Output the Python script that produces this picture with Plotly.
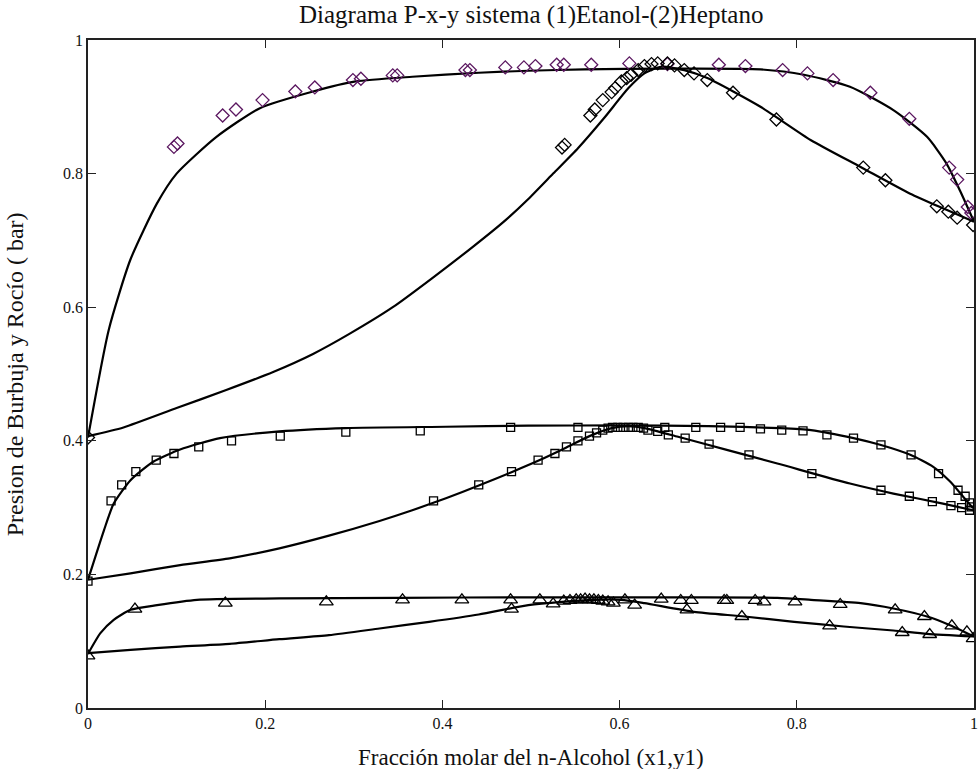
import plotly.graph_objects as go

# ---------------- data ----------------
# System 1 (diamonds, highest pressure)
d_bub_curve_x = [0, 0.0234, 0.0478, 0.0777, 0.100, 0.145, 0.194, 0.254, 0.302, 0.366, 0.441, 0.497, 0.56, 0.65, 0.759, 0.808, 0.860, 0.909, 0.947, 0.969, 0.984, 1.0]
d_bub_curve_p = [0.405, 0.566, 0.671, 0.755, 0.800, 0.855, 0.898, 0.923, 0.938, 0.945, 0.951, 0.954, 0.956, 0.957, 0.956, 0.948, 0.930, 0.895, 0.855, 0.815, 0.775, 0.728]
d_dew_curve_x = [0, 0.040, 0.100, 0.156, 0.209, 0.254, 0.295, 0.344, 0.389, 0.434, 0.471, 0.497, 0.525, 0.553, 0.583, 0.610, 0.628, 0.647, 0.673, 0.699, 0.759, 0.816, 0.872, 0.928, 0.965, 1.0]
d_dew_curve_p = [0.407, 0.420, 0.449, 0.476, 0.503, 0.530, 0.560, 0.600, 0.644, 0.690, 0.730, 0.762, 0.800, 0.838, 0.884, 0.928, 0.950, 0.960, 0.955, 0.943, 0.900, 0.850, 0.810, 0.770, 0.748, 0.728]
d_bub_exp_x = [0.097, 0.101, 0.152, 0.167, 0.197, 0.234, 0.256, 0.299, 0.308, 0.344, 0.349, 0.426, 0.431, 0.471, 0.492, 0.505, 0.529, 0.537, 0.568, 0.611, 0.654, 0.712, 0.742, 0.784, 0.812, 0.841, 0.883, 0.927, 0.972, 0.981, 0.993, 0.997]
d_bub_exp_p = [0.840, 0.845, 0.887, 0.896, 0.910, 0.923, 0.929, 0.940, 0.942, 0.947, 0.947, 0.955, 0.955, 0.959, 0.959, 0.961, 0.963, 0.963, 0.963, 0.965, 0.964, 0.963, 0.961, 0.955, 0.950, 0.940, 0.921, 0.882, 0.809, 0.791, 0.750, 0.741]
d_dew_exp_x = [0, 0.535, 0.538, 0.567, 0.572, 0.581, 0.591, 0.595, 0.602, 0.608, 0.613, 0.621, 0.628, 0.636, 0.643, 0.654, 0.662, 0.673, 0.684, 0.699, 0.728, 0.777, 0.875, 0.900, 0.958, 0.971, 0.981, 0.999]
d_dew_exp_p = [0.405, 0.839, 0.843, 0.887, 0.896, 0.910, 0.922, 0.928, 0.938, 0.943, 0.948, 0.955, 0.961, 0.964, 0.965, 0.965, 0.962, 0.955, 0.950, 0.940, 0.921, 0.881, 0.809, 0.790, 0.751, 0.743, 0.734, 0.723]

# System 2 (squares)
s_bub_curve_x = [0, 0.018, 0.029, 0.048, 0.074, 0.104, 0.149, 0.216, 0.291, 0.404, 0.497, 0.600, 0.700, 0.781, 0.816, 0.864, 0.894, 0.928, 0.954, 0.973, 0.988, 0.999]
s_bub_curve_p = [0.192, 0.266, 0.306, 0.341, 0.369, 0.387, 0.404, 0.414, 0.419, 0.421, 0.4226, 0.423, 0.422, 0.419, 0.416, 0.404, 0.394, 0.379, 0.361, 0.339, 0.316, 0.299]
s_dew_curve_x = [0, 0.048, 0.104, 0.160, 0.216, 0.272, 0.329, 0.366, 0.404, 0.441, 0.478, 0.508, 0.540, 0.566, 0.591, 0.610, 0.628, 0.666, 0.722, 0.778, 0.860, 0.909, 0.965, 0.999]
s_dew_curve_p = [0.192, 0.2016, 0.214, 0.224, 0.239, 0.258, 0.280, 0.296, 0.314, 0.333, 0.353, 0.370, 0.390, 0.407, 0.419, 0.422, 0.419, 0.406, 0.386, 0.366, 0.336, 0.321, 0.306, 0.296]
s_bub_exp_x = [0, 0.026, 0.038, 0.054, 0.077, 0.097, 0.125, 0.162, 0.217, 0.291, 0.375, 0.477, 0.553, 0.651, 0.686, 0.714, 0.736, 0.759, 0.783, 0.807, 0.834, 0.864, 0.895, 0.929, 0.960, 0.982, 0.990, 0.995, 0.997]
s_bub_exp_p = [0.190, 0.310, 0.334, 0.354, 0.371, 0.381, 0.391, 0.400, 0.407, 0.413, 0.415, 0.420, 0.420, 0.420, 0.420, 0.420, 0.420, 0.418, 0.416, 0.415, 0.409, 0.404, 0.394, 0.379, 0.351, 0.326, 0.317, 0.307, 0.301]
s_dew_exp_x = [0.390, 0.441, 0.478, 0.508, 0.527, 0.540, 0.553, 0.566, 0.574, 0.581, 0.587, 0.592, 0.598, 0.604, 0.610, 0.615, 0.621, 0.627, 0.632, 0.643, 0.655, 0.674, 0.701, 0.746, 0.817, 0.895, 0.927, 0.953, 0.974, 0.986, 0.995]
s_dew_exp_p = [0.310, 0.334, 0.354, 0.371, 0.381, 0.391, 0.400, 0.407, 0.412, 0.416, 0.419, 0.420, 0.420, 0.420, 0.420, 0.420, 0.420, 0.419, 0.416, 0.414, 0.409, 0.404, 0.395, 0.379, 0.351, 0.326, 0.317, 0.309, 0.303, 0.300, 0.296]

# System 3 (triangles, lowest pressure)
t_bub_curve_x = [0, 0.014, 0.029, 0.048, 0.078, 0.123, 0.216, 0.350, 0.497, 0.650, 0.778, 0.816, 0.872, 0.909, 0.947, 0.973, 1.0]
t_bub_curve_p = [0.081, 0.112, 0.132, 0.147, 0.154, 0.162, 0.164, 0.165, 0.1657, 0.1655, 0.165, 0.162, 0.157, 0.149, 0.137, 0.124, 0.107]
t_dew_curve_x = [0, 0.048, 0.104, 0.160, 0.216, 0.272, 0.329, 0.385, 0.441, 0.497, 0.535, 0.572, 0.602, 0.628, 0.684, 0.741, 0.797, 0.853, 0.909, 0.947, 1.0]
t_dew_curve_p = [0.082, 0.087, 0.092, 0.096, 0.103, 0.109, 0.119, 0.129, 0.140, 0.154, 0.159, 0.162, 0.162, 0.157, 0.144, 0.137, 0.129, 0.122, 0.116, 0.111, 0.107]
t_bub_exp_x = [0, 0.053, 0.155, 0.269, 0.355, 0.422, 0.477, 0.510, 0.606, 0.647, 0.669, 0.681, 0.718, 0.721, 0.753, 0.763, 0.798, 0.849, 0.911, 0.944, 0.975, 0.992]
t_bub_exp_p = [0.078, 0.148, 0.157, 0.159, 0.162, 0.162, 0.162, 0.162, 0.162, 0.163, 0.161, 0.161, 0.161, 0.161, 0.161, 0.159, 0.159, 0.155, 0.147, 0.137, 0.123, 0.114]
t_dew_exp_x = [0.478, 0.525, 0.537, 0.544, 0.551, 0.556, 0.561, 0.566, 0.571, 0.576, 0.581, 0.587, 0.593, 0.617, 0.676, 0.738, 0.837, 0.919, 0.950, 0.999]
t_dew_exp_p = [0.148, 0.156, 0.160, 0.161, 0.162, 0.162, 0.163, 0.162, 0.162, 0.161, 0.160, 0.159, 0.157, 0.154, 0.147, 0.137, 0.123, 0.113, 0.110, 0.104]

x_ticks = [0, 0.2, 0.4, 0.6, 0.8, 1]
y_ticks = [0, 0.2, 0.4, 0.6, 0.8, 1]

title_text = "Diagrama P-x-y sistema (1)Etanol-(2)Heptano"
x_title = "Fracción molar del n-Alcohol (x1,y1)"
y_title = "Presion de Burbuja y Rocío ( bar)"

# ---------------- figure ----------------
FONT = "Liberation Serif, Times New Roman, serif"
PURPLE = "#5b1760"
BLACK = "#000000"

fig = go.Figure()

curves = [
    (d_bub_curve_x, d_bub_curve_p), (d_dew_curve_x, d_dew_curve_p),
    (s_bub_curve_x, s_bub_curve_p), (s_dew_curve_x, s_dew_curve_p),
    (t_bub_curve_x, t_bub_curve_p), (t_dew_curve_x, t_dew_curve_p),
]
for cx, cp in curves:
    fig.add_trace(go.Scatter(x=cx, y=cp, mode="lines",
                             line=dict(color=BLACK, width=2.2, shape="spline", smoothing=0.6),
                             showlegend=False, hoverinfo="skip"))

markers = [
    (d_bub_exp_x, d_bub_exp_p, "diamond-open", PURPLE, 10),
    (d_dew_exp_x, d_dew_exp_p, "diamond-open", BLACK, 10),
    (s_bub_exp_x, s_bub_exp_p, "square-open", BLACK, 8),
    (s_dew_exp_x, s_dew_exp_p, "square-open", BLACK, 8),
    (t_bub_exp_x, t_bub_exp_p, "triangle-up-open", BLACK, 12),
    (t_dew_exp_x, t_dew_exp_p, "triangle-up-open", BLACK, 12),
]
for mx, mp, sym, col, sz in markers:
    fig.add_trace(go.Scatter(x=mx, y=mp, mode="markers",
                             marker=dict(symbol=sym, size=sz, color=col,
                                         line=dict(color=col, width=1.3)),
                             showlegend=False))

axis_common = dict(
    range=[0, 1], showgrid=False, zeroline=False,
    showline=True, linecolor="#222222", linewidth=1.5, mirror="ticks",
    ticks="inside", ticklen=8, tickwidth=1.2, tickcolor="#222222",
    tickfont=dict(family=FONT, size=16, color="#111111"),
)

fig.update_layout(
    width=980, height=769,
    margin=dict(l=88, r=2, t=40, b=61),
    paper_bgcolor="white", plot_bgcolor="white",
    xaxis=dict(tickvals=x_ticks, ticktext=[f"{v:g}" for v in x_ticks], **axis_common),
    yaxis=dict(tickvals=y_ticks, ticktext=[f"{v:g}" for v in y_ticks], **axis_common),
    annotations=[
        dict(text=title_text, x=0.5, y=(769 - 15 - 61) / 668, xref="paper", yref="paper",
             xanchor="center", yanchor="middle", showarrow=False,
             font=dict(family=FONT, size=25, color="#111111")),
        dict(text=x_title, x=0.5, y=(708 - 757) / 668, xref="paper", yref="paper",
             xanchor="center", yanchor="middle", showarrow=False,
             font=dict(family=FONT, size=23, color="#111111")),
        dict(text=y_title, x=(15 - 88) / 890, y=0.5, xref="paper", yref="paper",
             xanchor="center", yanchor="middle", showarrow=False, textangle=-90,
             font=dict(family=FONT, size=24, color="#111111")),
    ],
)

fig.write_html("out.html")
